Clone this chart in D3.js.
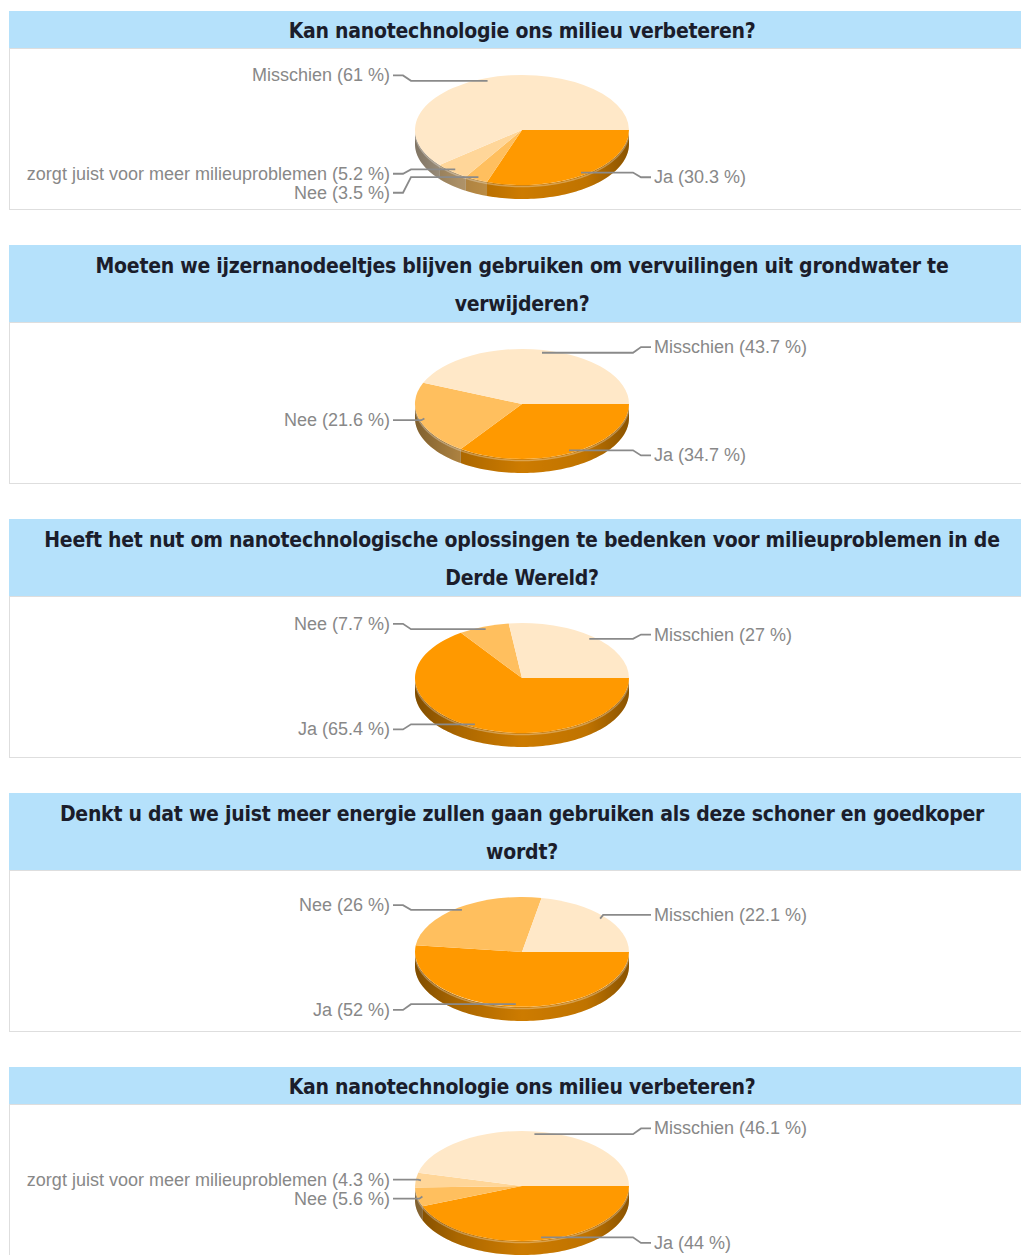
<!DOCTYPE html>
<html>
<head>
<meta charset="utf-8">
<script src="https://cdn.jsdelivr.net/npm/d3@7"></script>
<style>
  html, body { margin: 0; padding: 0; background: #ffffff; }
  svg { display: block; }
</style>
</head>
<body>
<script>
// Survey questions (each entry holds the wrapped lines of a title)
const titles = [
  ["Kan nanotechnologie ons milieu verbeteren?"],
  ["Moeten we ijzernanodeeltjes blijven gebruiken om vervuilingen uit grondwater te", "verwijderen?"],
  ["Heeft het nut om nanotechnologische oplossingen te bedenken voor milieuproblemen in de", "Derde Wereld?"],
  ["Denkt u dat we juist meer energie zullen gaan gebruiken als deze schoner en goedkoper", "wordt?"],
  ["Kan nanotechnologie ons milieu verbeteren?"]
];

// Answer categories per question, in clockwise order from 3 o'clock
const answers1 = ["Ja", "Nee", "zorgt juist voor meer milieuproblemen", "Misschien"];
const answers2 = ["Ja", "Nee", "Misschien"];
const answers3 = ["Ja", "Nee", "Misschien"];
const answers4 = ["Ja", "Nee", "Misschien"];
const answers5 = ["Ja", "Nee", "zorgt juist voor meer milieuproblemen", "Misschien"];

// Percentages per question
const values1 = [30.3, 3.5, 5.2, 61];
const values2 = [34.7, 21.6, 43.7];
const values3 = [65.4, 7.7, 27];
const values4 = [52, 26, 22.1];
const values5 = [44, 5.6, 4.3, 46.1];

const answerDomain = ["Ja", "Nee", "zorgt juist voor meer milieuproblemen", "Misschien"];
const answerColors = ["#ff9900", "#ffbf5e", "#ffd699", "#ffe8c8"];

const charts = [
  { title: titles[0], answers: answers1, values: values1 },
  { title: titles[1], answers: answers2, values: values2 },
  { title: titles[2], answers: answers3, values: values3 },
  { title: titles[3], answers: answers4, values: values4 },
  { title: titles[4], answers: answers5, values: values5 }
];

const W = 1021, H = 1255;
const color = d3.scaleOrdinal().domain(answerDomain).range(answerColors);

const svg = d3.select("body").append("svg")
  .attr("width", W).attr("height", H)
  .style("font-family", "'Liberation Sans', Arial, sans-serif");

const defs = svg.append("defs");

// Horizontal shading across the front wall of each pie
const shade = defs.append("linearGradient").attr("id", "wallShade")
  .attr("x1", "0%").attr("x2", "100%").attr("y1", "0%").attr("y2", "0%");
[[0, 0.4], [0.2, 0.2], [0.5, 0.04], [0.8, 0.1], [1, 0.35]].forEach(([o, a]) =>
  shade.append("stop").attr("offset", o).attr("stop-color", "#000").attr("stop-opacity", a));

const panelX = 9, panelW = 1040;
const bodyH = 162, gap = 35, lineH = 38;
const rx = 107, ry = 55, depth = 14, cx = 522;
const labelGap = 24, minSpacing = 19;

const pie = d3.pie().sort(null)
  .startAngle(Math.PI / 2).endAngle(Math.PI / 2 + 2 * Math.PI);
const arc = d3.arc().innerRadius(0).outerRadius(1);

// Point on the pie rim for a screen angle measured clockwise from 3 o'clock
const rim = (t, k, dy, cy) => [cx + k * rx * Math.cos(t), cy + dy + k * ry * Math.sin(t)];

function wallPath(t0, t1, cy) {
  const n = Math.max(2, Math.ceil((t1 - t0) / 0.03));
  const ts = d3.range(n + 1).map(i => t0 + (t1 - t0) * i / n);
  const top = ts.map(t => rim(t, 1, 0, cy));
  const bottom = ts.slice().reverse().map(t => rim(t, 1, depth, cy));
  return d3.line()(top.concat(bottom)) + "Z";
}

let y = 11;
charts.forEach((c, ci) => {
  const nLines = c.title.length;
  const headH = 37 + 40 * (nLines - 1);
  const g = svg.append("g");

  // Header bar
  g.append("rect")
    .attr("x", panelX).attr("y", y)
    .attr("width", panelW).attr("height", headH)
    .attr("fill", "#b5e1fb");

  c.title.forEach((line, i) => {
    g.append("text")
      .attr("x", cx)
      .attr("y", y + headH / 2 + (i - (nLines - 1) / 2) * lineH + 1.5)
      .attr("text-anchor", "middle")
      .attr("dominant-baseline", "central")
      .style("font-family", "'DejaVu Sans Condensed', 'DejaVu Sans', sans-serif")
      .style("font-weight", "bold")
      .style("font-size", "21px")
      .style("letter-spacing", "-0.25px")
      .attr("fill", "#1b1d2b")
      .text(line);
  });

  // Body box
  const bodyTop = y + headH;
  g.append("rect")
    .attr("x", panelX + 0.5).attr("y", bodyTop + 0.5)
    .attr("width", panelW).attr("height", bodyH - 1)
    .attr("fill", "#fff").attr("stroke", "#dedede");

  const cy = bodyTop + 82;
  const data = c.answers.map((a, i) => ({ answer: a, value: c.values[i] }));
  const arcs = pie.value(d => d.value)(data);

  // Front wall of the 3D pie
  const walls = g.append("g");
  arcs.forEach(a => {
    const t0 = Math.max(a.startAngle - Math.PI / 2, 0);
    const t1 = Math.min(a.endAngle - Math.PI / 2, Math.PI);
    if (t1 > t0) {
      walls.append("path")
        .attr("d", wallPath(t0, t1, cy))
        .attr("fill", d3.color(color(a.data.answer)).darker(0.5));
    }
  });
  walls.append("path")
    .attr("d", wallPath(0, Math.PI, cy))
    .attr("fill", "url(#wallShade)");
  // light rim just below the top surface
  walls.append("path")
    .attr("d", d3.line()(d3.range(0, 101).map(i => rim(Math.PI * i / 100, 1, 1.5, cy))))
    .attr("fill", "none").attr("stroke", "#fff").attr("stroke-opacity", 0.3).attr("stroke-width", 1.5);

  // Top surface
  g.append("g")
    .attr("transform", `translate(${cx},${cy}) scale(${rx},${ry})`)
    .selectAll("path").data(arcs).join("path")
    .attr("d", arc)
    .attr("fill", d => color(d.data.answer));

  // Labels with leader lines
  const labels = arcs.map(a => {
    const t = (a.startAngle + a.endAngle) / 2 - Math.PI / 2;
    const side = Math.cos(t) >= 0 ? 1 : -1;
    return {
      text: `${a.data.answer} (${a.data.value} %)`,
      side,
      anchor: rim(t, 0.95, 0, cy),
      ly: cy + (ry + 3) * Math.sin(t)
    };
  });
  [1, -1].forEach(s => {
    const list = labels.filter(l => l.side === s).sort((p, q) => p.ly - q.ly);
    for (let i = 1; i < list.length; i++) {
      if (list[i].ly < list[i - 1].ly + minSpacing) list[i].ly = list[i - 1].ly + minSpacing;
    }
  });

  const lg = g.append("g");
  labels.forEach(l => {
    const edge = cx + l.side * (rx + labelGap);
    const toPie = -l.side;
    const lineStart = edge + toPie * 2;
    let pts;
    if (Math.abs(l.ly - l.anchor[1]) > 4) {
      pts = [[lineStart, l.ly], [lineStart + toPie * 10, l.ly],
             [lineStart + toPie * 18, l.anchor[1]], l.anchor];
    } else {
      pts = [[lineStart, l.ly], [l.anchor[0] + l.side * 3, l.ly], l.anchor];
    }
    lg.append("path")
      .attr("d", d3.line()(pts))
      .attr("fill", "none").attr("stroke", "#8a8a8a").attr("stroke-width", 1.8);
    lg.append("text")
      .attr("x", edge + l.side * 1)
      .attr("y", l.ly)
      .attr("text-anchor", l.side > 0 ? "start" : "end")
      .attr("dominant-baseline", "central")
      .style("font-size", "18px")
      .attr("fill", "#888")
      .text(l.text);
  });

  y = bodyTop + bodyH + gap;
});
</script>
</body>
</html>
